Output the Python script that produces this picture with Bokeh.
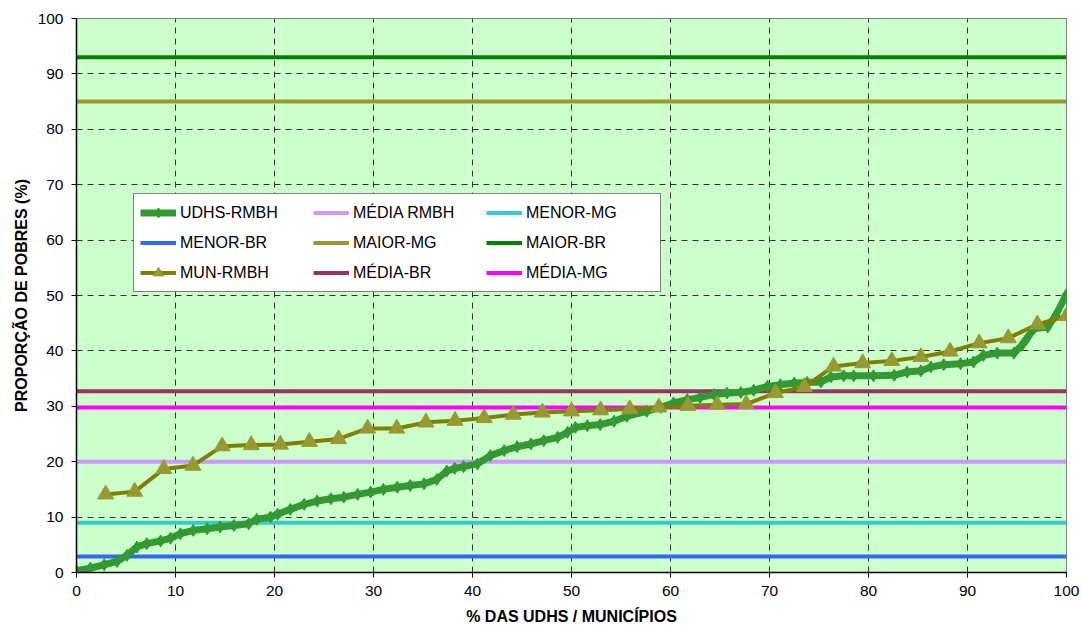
from bokeh.plotting import figure
from bokeh.models import Legend, LegendItem, Range1d, FixedTicker
from bokeh.embed import file_html
from bokeh.resources import INLINE

# ---------------- data ----------------
ticks = [0, 10, 20, 30, 40, 50, 60, 70, 80, 90, 100]

udhs_x = [0.0, 1.4, 2.8, 4.1, 5.1, 6.1, 7.1, 8.5, 9.5, 10.5, 11.8, 13.2, 14.5, 15.9,
          17.4, 18.2, 19.6, 20.3, 21.6, 23.0, 24.3, 25.7, 27.0, 28.4, 29.7, 31.0,
          32.4, 33.7, 35.1, 36.4, 37.4, 38.2, 39.1, 40.5, 41.8, 43.2, 44.5, 45.9,
          47.2, 48.6, 49.6, 50.4, 51.6, 52.9, 54.3, 55.6, 57.6, 59.0, 60.3, 61.7,
          63.0, 64.4, 65.7, 67.1, 68.4, 69.8, 71.1, 72.5, 73.8, 75.2, 76.2, 77.5,
          78.5, 80.5, 82.6, 83.9, 85.3, 86.3, 87.6, 89.3, 90.6, 91.6, 93.0, 94.7,
          95.5, 96.0, 96.7, 98.1, 98.9, 100.0]
udhs_y = [0.3, 0.8, 1.4, 2.0, 3.1, 4.6, 5.2, 5.7, 6.2, 7.0, 7.6, 7.9, 8.2, 8.5,
          8.8, 9.6, 10.0, 10.5, 11.4, 12.3, 12.9, 13.3, 13.6, 14.1, 14.5, 15.0,
          15.4, 15.7, 16.0, 16.8, 18.3, 18.8, 19.1, 19.6, 21.1, 22.0, 22.7, 23.2,
          23.8, 24.4, 25.3, 26.2, 26.5, 26.7, 27.3, 28.2, 29.1, 29.8, 30.6, 31.2,
          31.6, 32.1, 32.4, 32.5, 32.9, 33.6, 33.9, 34.2, 34.3, 34.4, 35.3, 35.5,
          35.5, 35.5, 35.6, 36.2, 36.4, 37.1, 37.5, 37.7, 38.0, 39.2, 39.6, 39.6,
          41.0, 42.2, 44.0, 44.3, 46.4, 50.2]

mun_x = [2.94, 5.88, 8.82, 11.76, 14.71, 17.65, 20.59, 23.53, 26.47, 29.41, 32.35,
         35.29, 38.24, 41.18, 44.12, 47.06, 50.0, 52.94, 55.88, 58.82, 61.76, 64.71,
         67.65, 70.59, 73.53, 76.47, 79.41, 82.35, 85.29, 88.24, 91.18, 94.12, 97.06,
         100.0]
mun_y = [14.1, 14.6, 18.7, 19.3, 22.8, 23.0, 23.1, 23.6, 24.1, 26.0, 26.0, 27.1,
         27.4, 27.9, 28.5, 28.9, 29.1, 29.3, 29.5, 29.8, 30.1, 30.3, 30.4, 32.4,
         33.5, 37.2, 37.8, 38.2, 38.9, 39.9, 41.4, 42.3, 44.8, 46.3]

ref_names = ["MÉDIA RMBH", "MENOR-MG", "MENOR-BR", "MAIOR-MG", "MAIOR-BR",
             "MÉDIA-BR", "MÉDIA-MG"]
ref_values = [20.0, 9.0, 2.9, 85.0, 93.0, 32.7, 29.8]

# ---------------- styles ----------------
ref_colors = {
    "MÉDIA RMBH": "#CC99FF",
    "MENOR-MG": "#33CCCC",
    "MENOR-BR": "#3366FF",
    "MAIOR-MG": "#999933",
    "MAIOR-BR": "#008000",
    "MÉDIA-BR": "#993366",
    "MÉDIA-MG": "#FF00FF",
}
UDHS_COLOR = "#339933"
MUN_LINE = "#808000"
MUN_MARK = "#999933"
FONT = "Liberation Sans"

p = figure(width=1080, height=630, output_backend="svg", toolbar_location=None,
           x_range=Range1d(ticks[0], ticks[-1]), y_range=Range1d(ticks[0], ticks[-1]),
           min_border_left=76, min_border_right=14, min_border_top=18,
           min_border_bottom=58)

p.background_fill_color = "#CCFFCC"
p.border_fill_color = "white"
p.outline_line_color = "#808080"
p.outline_line_width = 1

for g in (p.xgrid, p.ygrid):
    g.grid_line_color = "#333333"
    g.grid_line_dash = "6 5"
    g.grid_line_width = 1
    g.ticker = FixedTicker(ticks=ticks)

for ax in (p.xaxis, p.yaxis):
    ax.ticker = FixedTicker(ticks=ticks)
    ax.axis_line_color = "black"
    ax.axis_line_width = 1.5
    ax.major_tick_line_color = "black"
    ax.major_tick_in = 0
    ax.major_tick_out = 5
    ax.minor_tick_line_color = None
    ax.major_label_text_font = FONT
    ax.major_label_text_font_size = "15.5px"
    ax.major_label_text_color = "black"
    ax.axis_label_text_font = FONT
    ax.axis_label_text_font_size = "16px"
    ax.axis_label_text_font_style = "bold"
    ax.axis_label_text_color = "black"

p.xaxis.axis_label = "% DAS UDHS / MUNICÍPIOS"
p.yaxis.axis_label = "PROPORÇÃO DE POBRES (%)"
p.xaxis.major_label_standoff = 8
p.xaxis.axis_label_standoff = 9
p.yaxis.major_label_standoff = 8
p.yaxis.axis_label_standoff = 5

# reference horizontal lines
ref_r = {}
for name, val in zip(ref_names, ref_values):
    ref_r[name] = p.line([ticks[0], ticks[-1]], [val, val], line_color=ref_colors[name],
                         line_width=4)

# UDHS curve
u_line = p.line(udhs_x, udhs_y, line_color=UDHS_COLOR, line_width=7)
u_mark = p.scatter(udhs_x, udhs_y, marker="diamond", size=12, fill_color=UDHS_COLOR,
                   line_color=UDHS_COLOR)

# MUN curve
m_line = p.line(mun_x, mun_y, line_color=MUN_LINE, line_width=4)
m_mark = p.scatter(mun_x, mun_y, marker="triangle", size=16, fill_color=MUN_MARK,
                   line_color=MUN_MARK)

items = [
    LegendItem(label="UDHS-RMBH", renderers=[u_line, u_mark]),
    LegendItem(label="MÉDIA RMBH", renderers=[ref_r["MÉDIA RMBH"]]),
    LegendItem(label="MENOR-MG", renderers=[ref_r["MENOR-MG"]]),
    LegendItem(label="MENOR-BR", renderers=[ref_r["MENOR-BR"]]),
    LegendItem(label="MAIOR-MG", renderers=[ref_r["MAIOR-MG"]]),
    LegendItem(label="MAIOR-BR", renderers=[ref_r["MAIOR-BR"]]),
    LegendItem(label="MUN-RMBH", renderers=[m_line, m_mark]),
    LegendItem(label="MÉDIA-BR", renderers=[ref_r["MÉDIA-BR"]]),
    LegendItem(label="MÉDIA-MG", renderers=[ref_r["MÉDIA-MG"]]),
]

legend = Legend(items=items, location=(57, 280), orientation="horizontal", ncols=3,
                padding=6, spacing=5, glyph_width=36, glyph_height=25,
                label_standoff=4, label_width=128, label_height=25,
                label_text_font=FONT, label_text_font_size="16px",
                label_text_color="black",
                border_line_color="black", border_line_width=1,
                background_fill_color="white", background_fill_alpha=1.0,
                margin=0)
p.add_layout(legend, "center")

open("out.html", "w").write(file_html(p, INLINE))
